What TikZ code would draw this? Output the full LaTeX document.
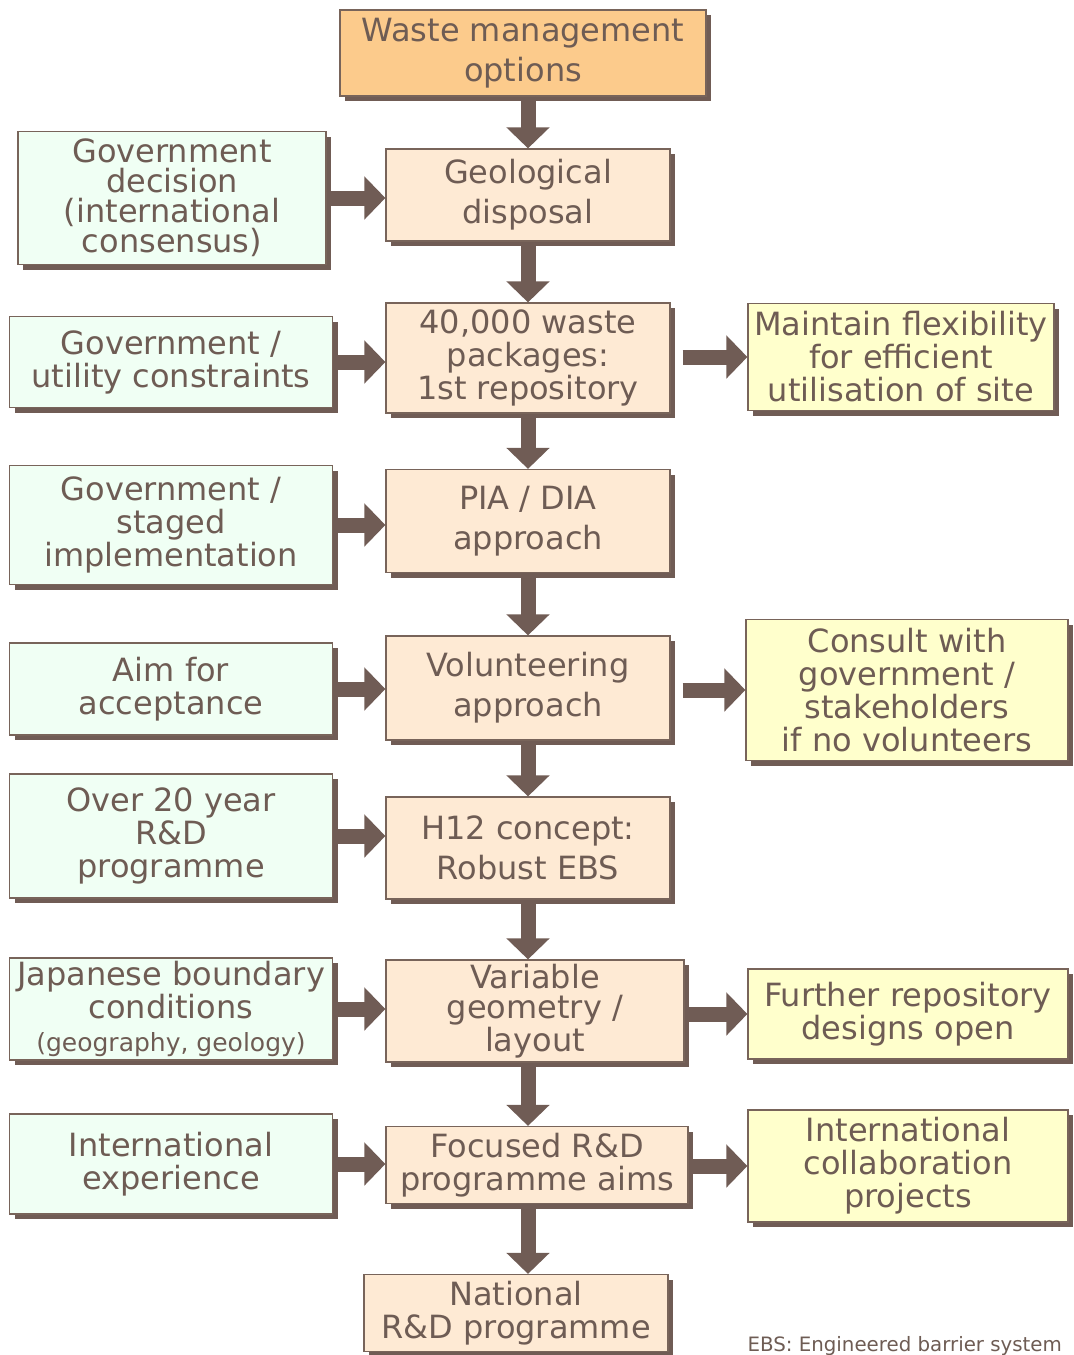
\documentclass[tikz,border=0pt]{standalone}
\usepackage{fontspec}
\setmainfont{DejaVu Sans}
\usetikzlibrary{positioning,calc,arrows.meta,shadows}
\definecolor{txtc}{RGB}{110,92,84}
\definecolor{shadc}{RGB}{112,92,85}
\definecolor{edgec}{RGB}{120,100,90}
\definecolor{topc}{RGB}{252,203,140}
\definecolor{midc}{RGB}{254,234,212}
\definecolor{leftc}{RGB}{240,255,244}
\definecolor{rightc}{RGB}{255,255,204}
\newcommand*{\subtxt}[1]{{\fontsize{12.5}{14}\selectfont #1}}

\begin{document}
\begin{tikzpicture}[x=0.5pt,y=-0.5pt,
  box/.style={draw=edgec,line width=0.6pt,text=txtc,align=center,inner sep=0pt,
    font=\fontsize{16}{16.5}\selectfont,
    drop shadow={shadow xshift=2.5pt,shadow yshift=-2.5pt,fill=shadc,opacity=1}},
  topbox/.style={box,fill=topc},
  midbox/.style={box,fill=midc,minimum width=142pt},
  leftbox/.style={box,fill=leftc,minimum width=161.5pt},
  rightbox/.style={box,fill=rightc,minimum width=160pt},
  loose/.style={font=\fontsize{16}{20}\selectfont},
  tight/.style={font=\fontsize{16}{15}\selectfont},
  flow/.style={draw=shadc,line width=7.5pt,-{Triangle[length=10.5pt,width=21pt]}}]
\useasboundingbox (0,0) rectangle (1074,1355);
% Main column
\node[topbox,loose,minimum width=183pt,minimum height=43pt] (wmo) at (523,53)
  {Waste management\\options};
\node[midbox,loose,minimum height=46pt] (geo) at (528,195) {Geological\\disposal};
\node[midbox,minimum height=55pt] (pkg) at (528,358)
  {40,000 waste\\packages:\\1st repository};
\node[midbox,loose,minimum height=51.5pt] (pia) at (528,521) {PIA / DIA\\approach};
\node[midbox,loose,minimum height=52pt] (vol) at (528,688) {Volunteering\\approach};
\node[midbox,loose,minimum height=51pt] (h12) at (528,848)
  {H12 concept:\\Robust EBS};
\node[midbox,tight,minimum width=149pt,minimum height=51pt] (var) at (535,1011)
  {Variable\\geometry /\\layout};
\node[midbox,minimum width=151pt,minimum height=38.5pt] (foc) at (537,1165)
  {Focused R\&D\\programme aims};
\node[midbox,minimum width=152pt,minimum height=38.5pt] (nat) at (516,1313)
  {National\\R\&D programme};
% Inputs on the left
\node[leftbox,tight,minimum width=154pt,minimum height=66.5pt] (gdec) at (172,198)
  {Government\\decision\\(international\\consensus)};
\node[leftbox,minimum height=45.5pt] (gutil) at (171,362)
  {Government /\\utility constraints};
\node[leftbox,minimum height=59.5pt] (gstage) at (171,525)
  {Government /\\staged\\implementation};
\node[leftbox,minimum height=46pt] (aim) at (171,689) {Aim for\\acceptance};
\node[leftbox,minimum height=62pt] (over) at (171,836)
  {Over 20 year\\R\&D\\programme};
\node[leftbox,minimum height=51pt] (jap) at (171,1009)
  {Japanese boundary\\conditions\\\subtxt{(geography, geology)}};
\node[leftbox,minimum height=50pt] (iexp) at (171,1164)
  {International\\experience};
% Outcomes on the right
\node[rightbox,minimum width=153pt,minimum height=53.5pt] (flex) at (901,357)
  {Maintain flexibility\\for efficient\\utilisation of site};
\node[rightbox,minimum width=161pt,minimum height=70.5pt] (cons) at (907,690)
  {Consult with\\government /\\stakeholders\\if no volunteers};
\node[rightbox,minimum height=45pt] (furt) at (908,1014)
  {Further repository\\designs open};
\node[rightbox,minimum height=56pt] (icol) at (908,1166)
  {International\\collaboration\\projects};
% Arrows down the column
\draw[flow] (geo.north |- wmo.south) -- (geo.north);
\draw[flow] (geo) -- (pkg);
\draw[flow] (pkg) -- (pia);
\draw[flow] (pia) -- (vol);
\draw[flow] (vol) -- (h12);
\draw[flow] (h12.south) -- (h12.south |- var.north);
\draw[flow] (h12.south |- var.south) -- (h12.south |- foc.north);
\draw[flow] (h12.south |- foc.south) -- (h12.south |- nat.north);
% Arrows in from the left
\foreach \src/\dst in {gdec/geo,gutil/pkg,gstage/pia,aim/vol,over/h12,jap/var,iexp/foc}
  \draw[flow] (\src.east) -- (\src.east -| \dst.west);
% Arrows out to the right
\draw[flow,shorten <=6pt] (pkg.east |- flex.west) -- (flex.west);
\draw[flow,shorten <=6pt] (vol.east |- cons.west) -- (cons.west);
\draw[flow] (var.east |- furt.west) -- (furt.west);
\draw[flow] (foc.east |- icol.west) -- (icol.west);
% Footnote
\node[anchor=base east,text=txtc,font=\fontsize{9.9}{11}\selectfont] (ebs) at (1069,1351)
  {EBS: Engineered barrier system};
\end{tikzpicture}
\end{document}
